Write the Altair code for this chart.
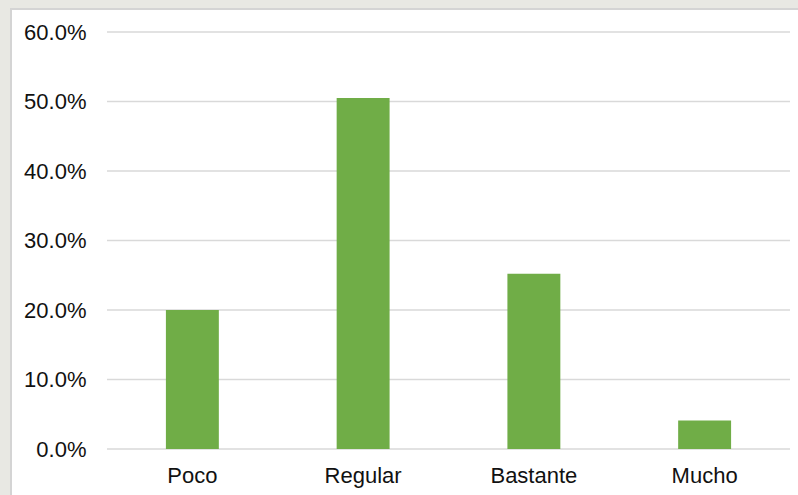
import altair as alt
import pandas as pd

categorias = ["Poco", "Regular", "Bastante", "Mucho"]
porcentajes = [0.200, 0.505, 0.252, 0.041]
ticks_y = [0.0, 0.1, 0.2, 0.3, 0.4, 0.5, 0.6]

df = pd.DataFrame({"categoria": categorias, "valor": porcentajes})
df_grid = pd.DataFrame({"valor": ticks_y})

FONT = "Liberation Sans"
escala_y = alt.Scale(domain=[0, 0.6], nice=False)
eje_y = alt.Axis(
    values=ticks_y, format=".1%", labelFont=FONT, labelFontSize=22,
    labelColor="#111111", labelPadding=21, ticks=False, domain=False,
    grid=False, zindex=1,
)

# white card with a thin grey border behind the plot
marco = alt.Chart(pd.DataFrame({"k": [0]})).mark_rect(
    fill="white", stroke="#d4d4d4", strokeWidth=2
).encode(
    x=alt.value(-96), x2=alt.value(700), y=alt.value(-23), y2=alt.value(470)
)

# horizontal gridlines, kept beneath the bars
rejilla = alt.Chart(df_grid).mark_rule(color="#d9d9d9", strokeWidth=1.6).encode(
    y=alt.Y("valor:Q", scale=escala_y, axis=eje_y, title=None)
)

barras = alt.Chart(df).mark_bar(color="#70AD47").encode(
    x=alt.X(
        "categoria:N",
        sort=categorias,
        title=None,
        scale=alt.Scale(paddingInner=0.69, paddingOuter=0.345),
        axis=alt.Axis(
            labelAngle=0, labelFont=FONT, labelFontSize=22, labelColor="#111111",
            labelPadding=16, ticks=False, domain=False, grid=False, zindex=1,
        ),
    ),
    y=alt.Y("valor:Q", title=None, scale=escala_y, axis=eje_y),
)

chart = alt.layer(marco, rejilla, barras).properties(
    width=683, height=417,
    autosize=alt.AutoSizeParams(type="none"),
    padding={"left": 107, "top": 32, "right": 8, "bottom": 46},
    background="#e8e8e3",
).configure_view(stroke=None)

chart.save("out.html", embed_options={"renderer": "svg", "actions": False})
